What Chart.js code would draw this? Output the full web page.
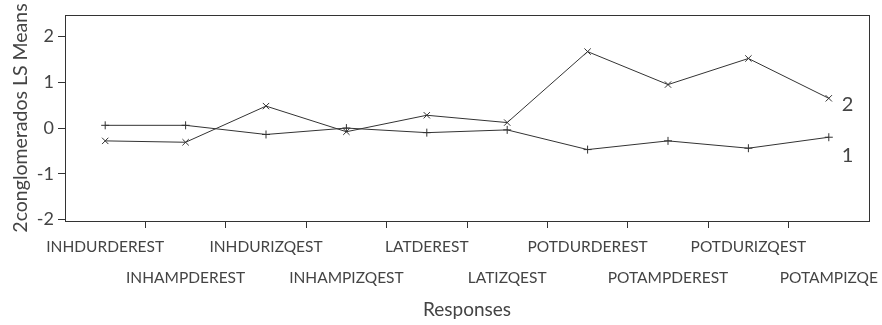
<!DOCTYPE html>
<html>
<head>
<meta charset="utf-8">
<script src="https://cdn.jsdelivr.net/npm/chart.js@4"></script>
<style>
  body { margin: 0; background: #fff; }
  #wrap { width: 882px; height: 325px; }
</style>
</head>
<body>
<div id="wrap"><canvas id="myChart"></canvas></div>
<script>
const categories = ["INHDURDEREST", "INHAMPDEREST", "INHDURIZQEST", "INHAMPIZQEST", "LATDEREST",
  "LATIZQEST", "POTDURDEREST", "POTAMPDEREST", "POTDURIZQEST", "POTAMPIZQE"];
const cluster1 = [0.06, 0.06, -0.14, 0.0, -0.1, -0.04, -0.47, -0.28, -0.44, -0.2];
const cluster2 = [-0.28, -0.31, 0.48, -0.08, 0.28, 0.12, 1.67, 0.95, 1.52, 0.65];
const yTicks = [-2, -1, 0, 1, 2];

const ink = '#333';
const textColor = '#444';
const fontFamily = 'Lato, "Open Sans", sans-serif';

// alternate labels on two rows
const labels = categories.map((c, i) => i % 2 === 0 ? [c, ''] : ['', c]);

const boxPlugin = {
  id: 'box',
  afterDraw(chart) {
    const a = chart.chartArea, ctx = chart.ctx;
    ctx.save();
    ctx.strokeStyle = ink;
    ctx.lineWidth = 1;
    ctx.strokeRect(Math.round(a.left) + 0.5, Math.round(a.top) + 0.5,
      Math.round(a.right - a.left), Math.round(a.bottom - a.top));
    // series names at the end of each line
    ctx.fillStyle = textColor;
    ctx.font = '20px ' + fontFamily;
    ctx.textBaseline = 'middle';
    const offsets = [18, 6];
    chart.data.datasets.forEach((ds, i) => {
      const meta = chart.getDatasetMeta(i);
      const last = meta.data[meta.data.length - 1];
      ctx.fillText(ds.label, last.x + 13, last.y + offsets[i]);
    });
    ctx.restore();
  }
};

new Chart(document.getElementById('myChart'), {
  type: 'line',
  data: {
    labels: labels,
    datasets: [{
      label: '1',
      data: cluster1,
      borderColor: ink,
      borderWidth: 1,
      pointStyle: 'cross',
      pointRadius: 4,
      pointBorderColor: ink,
      pointBorderWidth: 1,
      tension: 0
    }, {
      label: '2',
      data: cluster2,
      borderColor: ink,
      borderWidth: 1,
      pointStyle: 'crossRot',
      pointRadius: 4.5,
      pointBorderColor: ink,
      pointBorderWidth: 1,
      tension: 0
    }]
  },
  options: {
    responsive: true,
    maintainAspectRatio: false,
    animation: false,
    layout: { padding: { top: 15, right: 13, left: 0, bottom: 0 } },
    plugins: { legend: { display: false }, tooltip: { enabled: false } },
    scales: {
      x: {
        offset: true,
        grid: {
          offset: true,
          drawOnChartArea: false,
          tickLength: 7,
          // no tick marks at the two box corners
          color: (c) => (c.type !== 'tick' || c.index === 0) ? 'rgba(0,0,0,0)' : ink
        },
        border: { display: false },
        ticks: {
          autoSkip: false,
          maxRotation: 0,
          color: textColor,
          padding: 3,
          font: { family: fontFamily, size: 15.5, lineHeight: 2.0 }
        },
        title: {
          display: true,
          text: 'Responses',
          color: textColor,
          font: { family: fontFamily, size: 19 },
          padding: { top: 9 }
        },
        afterFit(scale) { scale.height = 104; }
      },
      y: {
        min: -2.03,
        max: 2.47,
        afterBuildTicks(scale) { scale.ticks = yTicks.map(v => ({ value: v })); },
        grid: { drawOnChartArea: false, tickLength: 7, color: ink },
        border: { display: false },
        ticks: {
          color: textColor,
          padding: 4,
          font: { family: fontFamily, size: 18 }
        },
        title: {
          display: true,
          text: '2conglomerados LS Means',
          color: textColor,
          font: { family: fontFamily, size: 19.5 },
          padding: { top: 9, bottom: 0 }
        },
        afterFit(scale) { scale.width = 65; }
      }
    }
  },
  plugins: [boxPlugin]
});
</script>
</body>
</html>
